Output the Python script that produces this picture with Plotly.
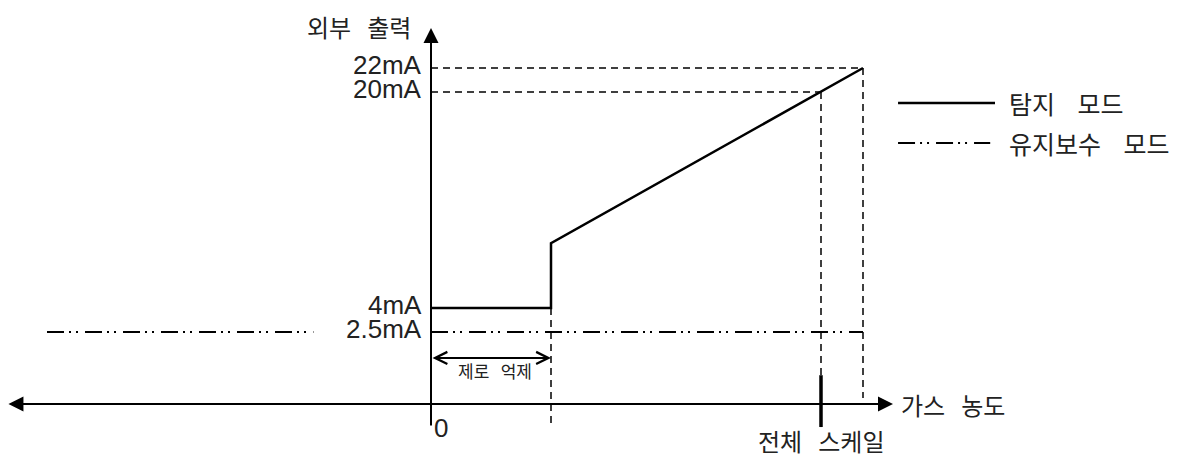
import plotly.graph_objects as go

# schematic levels (not to scale, as in the drawing)
level_labels = ["22mA", "20mA", "4mA", "2.5mA"]
level_pos = [14, 13, 4, 3]

# detection mode curve: flat at 4mA until zero suppression ends, jump, then rise to 22mA
detect_x = [0, 5, 5, 18]
detect_y = [4, 4, 6.7, 14]

# maintenance mode level (2.5mA), drawn in two pieces
maint_left_x = [-16, -4.9]
maint_right_x = [0, 18]
maint_y = 3

zero_supp_end = 5
full_scale_x = 16.25
over_range_x = 18

dash_guide = "7px,5px"
dash_maint = "17px,5px,2px,5px,2px,7px"
font_fam = "Liberation Sans, Noto Sans CJK KR"
kor_fam = "Noto Sans CJK KR"
sp = "\u00a0"

fig = go.Figure()

def seg(x, y, width=2, dash="solid"):
    fig.add_trace(go.Scatter(x=x, y=y, mode="lines", showlegend=False, hoverinfo="skip",
                             line=dict(color="black", width=width, dash=dash)))

# guide lines
seg([0, over_range_x], [level_pos[0], level_pos[0]], 1.5, dash_guide)
seg([0, full_scale_x], [level_pos[1], level_pos[1]], 1.5, dash_guide)
seg([over_range_x, over_range_x], [level_pos[0], 0.25], 1.5, dash_guide)
seg([full_scale_x, full_scale_x], [level_pos[1], 1.2], 1.5, dash_guide)
seg([zero_supp_end, zero_supp_end], [level_pos[2], -1], 1.5, dash_guide)

# maintenance mode
seg(maint_left_x, [maint_y, maint_y], 2, dash_maint)
seg(maint_right_x, [maint_y, maint_y], 2, dash_maint)

# detection mode
fig.add_trace(go.Scatter(x=detect_x, y=detect_y, mode="lines", showlegend=False, hoverinfo="skip",
                         line=dict(color="black", width=2.5)))

# full scale tick
seg([full_scale_x, full_scale_x], [1.2, -0.96], 3.5)

# axes with arrows
fig.add_annotation(x=19.25, y=0, ax=-17.67, ay=0, xref="x", yref="y", axref="x", ayref="y",
                   text="", showarrow=True, arrowhead=2, arrowside="end+start",
                   arrowsize=1.5, arrowwidth=2, arrowcolor="black")
fig.add_annotation(x=0, y=15.67, ax=0, ay=-0.96, xref="x", yref="y", axref="x", ayref="y",
                   text="", showarrow=True, arrowhead=2, arrowsize=1.5, arrowwidth=2,
                   arrowcolor="black")
# zero suppression span
fig.add_annotation(x=zero_supp_end, y=1.92, ax=0, ay=1.92, xref="x", yref="y", axref="x", ayref="y",
                   text="", showarrow=True, arrowhead=5, arrowside="end+start",
                   arrowsize=1.2, arrowwidth=2, arrowcolor="black")

# level labels
for lab, pos in zip(level_labels, level_pos):
    fig.add_annotation(x=-0.3, y=pos, text=lab, showarrow=False, xanchor="right",
                       yshift=3, font=dict(size=26, family=font_fam, color="#222"))

def label(x, y, text, size=24, anchor="center", fam=kor_fam):
    fig.add_annotation(x=x, y=y, text=text, showarrow=False, xanchor=anchor,
                       font=dict(size=size, family=fam, color="#222"))

label(-5.25, 15.75, "외부" + sp * 3 + "출력", anchor="left")
label(19.5, 0, "가스" + sp * 3 + "농도", anchor="left")
label(full_scale_x, -1.5, "전체" + sp * 3 + "스케일")
label(2.65, 1.38, "제로" + sp * 3 + "억제", size=17)
label(0.42, -1.0, "0", size=26, anchor="center", fam=font_fam)

# legend drawn by hand
seg([19.46, 23.5], [12.54, 12.54], 2.5)
seg([19.46, 23.3], [10.875, 10.875], 2, dash_maint)
label(24.0, 12.54, "탐지" + sp * 4 + "모드", size=25, anchor="left")
label(24.0, 10.875, "유지보수" + sp * 4 + "모드", size=25, anchor="left")

# page body has an 8px margin, so the plot origin sits at (423, 396) inside the figure
fig.update_layout(width=1185, height=456, autosize=False,
                  margin=dict(l=0, r=0, t=0, b=0),
                  paper_bgcolor="white", plot_bgcolor="white",
                  xaxis=dict(visible=False, range=[-423/24, (1185-423)/24], fixedrange=True),
                  yaxis=dict(visible=False, range=[(396-456)/24, 396/24], fixedrange=True))

fig.write_html("out.html")
